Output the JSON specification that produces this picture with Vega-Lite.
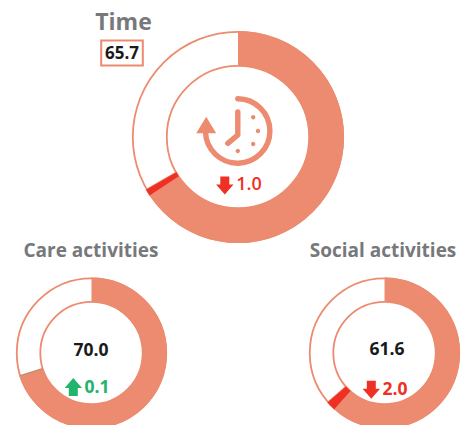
{
"$schema":"https://vega.github.io/schema/vega-lite/v6.json",
"width":467,"height":425,"padding":0,"autosize":{"type":"none"},
"background":"white",
"view":{"stroke":null},
"data":{"values":[
{"chart":"Time","tier":"main","zero":0,"full":100,"score":65.7,"change":1.0,"direction":"down","band_start":65.7,"band_end":66.7},
{"chart":"Care activities","tier":"sub","zero":0,"full":100,"score":70.0,"change":0.1,"direction":"up","band_start":70.0,"band_end":70.1},
{"chart":"Social activities","tier":"sub","zero":0,"full":100,"score":61.6,"change":2.0,"direction":"down","band_start":61.6,"band_end":63.6}
]},
"encoding":{
"x":{"field":"chart","type":"nominal","axis":null,"scale":{"type":"point","domain":["Care activities","Time","Social activities"],"range":[91.5,384.5],"padding":0}},
"y":{"field":"tier","type":"nominal","axis":null,"scale":{"type":"point","domain":["main","sub"],"range":[137,353],"padding":0}}
},
"layer":[
{"transform":[{"filter":"datum.tier=='main'"}],"mark":{"type":"arc","outerRadius":105.2,"innerRadius":71.2,"fill":"white","stroke":"#ec8b6f","strokeWidth":1.8},
 "encoding":{"theta":{"field":"zero","type":"quantitative","stack":null,"scale":{"domain":[0,100]}},"theta2":{"field":"full"}}},
{"transform":[{"filter":"datum.tier=='main'"}],"mark":{"type":"arc","outerRadius":106,"innerRadius":71,"fill":"#ec8b6f"},
 "encoding":{"theta":{"field":"zero","type":"quantitative","stack":null,"scale":{"domain":[0,100]}},"theta2":{"field":"score"}}},
{"transform":[{"filter":"datum.tier=='main'"}],"mark":{"type":"arc","outerRadius":105.5,"innerRadius":71.5,"fill":"#ec8b6f","stroke":"#ec8b6f","strokeWidth":1.5},
 "encoding":{"theta":{"field":"band_start","type":"quantitative","stack":null,"scale":{"domain":[0,100]}},"theta2":{"field":"band_end"}}},
{"transform":[{"filter":"datum.tier=='main'"}],"mark":{"type":"arc","outerRadius":106,"innerRadius":71},
 "encoding":{"theta":{"field":"band_start","type":"quantitative","stack":null,"scale":{"domain":[0,100]}},"theta2":{"field":"band_end"},
 "color":{"field":"direction","type":"nominal","legend":null,"scale":{"domain":["down","up"],"range":["#ee3124","#22b46a"]}}}},
{"transform":[{"filter":"datum.tier=='sub'"}],"mark":{"type":"arc","outerRadius":74.7,"innerRadius":51.2,"fill":"white","stroke":"#ec8b6f","strokeWidth":1.8},
 "encoding":{"theta":{"field":"zero","type":"quantitative","stack":null,"scale":{"domain":[0,100]}},"theta2":{"field":"full"}}},
{"transform":[{"filter":"datum.tier=='sub'"}],"mark":{"type":"arc","outerRadius":75.5,"innerRadius":51,"fill":"#ec8b6f"},
 "encoding":{"theta":{"field":"zero","type":"quantitative","stack":null,"scale":{"domain":[0,100]}},"theta2":{"field":"score"}}},
{"transform":[{"filter":"datum.tier=='sub'"}],"mark":{"type":"arc","outerRadius":75,"innerRadius":51.5,"fill":"#ec8b6f","stroke":"#ec8b6f","strokeWidth":1.5},
 "encoding":{"theta":{"field":"band_start","type":"quantitative","stack":null,"scale":{"domain":[0,100]}},"theta2":{"field":"band_end"}}},
{"transform":[{"filter":"datum.tier=='sub'"}],"mark":{"type":"arc","outerRadius":75.5,"innerRadius":51},
 "encoding":{"theta":{"field":"band_start","type":"quantitative","stack":null,"scale":{"domain":[0,100]}},"theta2":{"field":"band_end"},
 "color":{"field":"direction","type":"nominal","legend":null}}},
{"transform":[{"filter":"datum.tier=='main'"}],"mark":{"type":"point","size":4,"filled":false,"stroke":"#ec8b6f","strokeWidth":5.4,"strokeCap":"round","strokeJoin":"round","opacity":1,
 "shape":"M -0.2 -38.2 A 32.2 32.2 0 1 1 -32.5 -5 M -0.2 -25 L -0.2 -2 L -10.2 6.3"}},
{"transform":[{"filter":"datum.tier=='main'"}],"mark":{"type":"point","size":4,"filled":true,"fill":"#ec8b6f","opacity":1,
 "shape":"M -31.8 -20.3 L -41.8 -3.7 L -21.8 -3.7 Z M 13 -19.7 a 2.2 2.2 0 1 0 4.4 0 a 2.2 2.2 0 1 0 -4.4 0 Z M 17.8 -6 a 2.2 2.2 0 1 0 4.4 0 a 2.2 2.2 0 1 0 -4.4 0 Z M 13 7 a 2.2 2.2 0 1 0 4.4 0 a 2.2 2.2 0 1 0 -4.4 0 Z M -2.4 14 a 2.2 2.2 0 1 0 4.4 0 a 2.2 2.2 0 1 0 -4.4 0 Z"}},
{"transform":[{"filter":"datum.chart=='Time'"}],"mark":{"type":"point","size":4,"filled":false,"fill":"white","stroke":"#ec8b6f","strokeWidth":2,"opacity":1,
 "shape":"M -136.8 -96.5 L -95.2 -96.5 L -95.2 -71.5 L -136.8 -71.5 Z"}},
{"transform":[{"filter":"datum.chart=='Time'"}],"mark":{"type":"point","size":4,"filled":true,"fill":"#ee3124","opacity":1,
 "shape":"M -17.7 39.5 L -8.7 39.5 L -8.7 47.5 L -4.5 47.5 L -13.2 57.5 L -21.9 47.5 L -17.7 47.5 Z"}},
{"transform":[{"filter":"datum.chart=='Social activities'"}],"mark":{"type":"point","size":4,"filled":true,"fill":"#ee3124","opacity":1,
 "shape":"M -17.7 27.8 L -8.7 27.8 L -8.7 35.8 L -4.5 35.8 L -13.2 45.8 L -21.9 35.8 L -17.7 35.8 Z"}},
{"transform":[{"filter":"datum.chart=='Care activities'"}],"mark":{"type":"point","size":4,"filled":true,"fill":"#22b46a","opacity":1,
 "shape":"M -22.7 43 L -13.7 43 L -13.7 35 L -9.5 35 L -18.2 25 L -26.9 35 L -22.7 35 Z"}},
{"transform":[{"filter":"datum.chart=='Time'"}],"mark":{"type":"text","font":"Open Sans","fontWeight":700,"fontSize":23,"fill":"#77787b","dx":-114.5,"dy":-114},
 "encoding":{"text":{"field":"chart"}}},
{"transform":[{"filter":"datum.chart=='Care activities'"}],"mark":{"type":"text","font":"Open Sans","fontWeight":700,"fontSize":19,"fill":"#77787b","dx":-0.5,"dy":-102},
 "encoding":{"text":{"field":"chart"}}},
{"transform":[{"filter":"datum.chart=='Social activities'"}],"mark":{"type":"text","font":"Open Sans","fontWeight":700,"fontSize":19,"fill":"#77787b","dx":-1.5,"dy":-102},
 "encoding":{"text":{"field":"chart"}}},
{"transform":[{"filter":"datum.chart=='Time'"}],"mark":{"type":"text","font":"Open Sans","fontWeight":700,"fontSize":17,"fill":"#1a1a1a","dx":-116,"dy":-83},
 "encoding":{"text":{"field":"score","format":".1f"}}},
{"transform":[{"filter":"datum.chart=='Care activities'"}],"mark":{"type":"text","font":"Open Sans","fontWeight":700,"fontSize":17.5,"fill":"#1a1a1a","dx":-0.5,"dy":-2},
 "encoding":{"text":{"field":"score","format":".1f"}}},
{"transform":[{"filter":"datum.chart=='Social activities'"}],"mark":{"type":"text","font":"Open Sans","fontWeight":700,"fontSize":17.5,"fill":"#1a1a1a","dx":2.5,"dy":-3},
 "encoding":{"text":{"field":"score","format":".1f"}}},
{"transform":[{"filter":"datum.chart=='Time'"}],"mark":{"type":"text","font":"Open Sans","fontWeight":600,"fontSize":18,"dx":11,"dy":48},
 "encoding":{"text":{"field":"change","format":".1f"},"color":{"field":"direction","type":"nominal","legend":null}}},
{"transform":[{"filter":"datum.chart=='Care activities'"}],"mark":{"type":"text","font":"Open Sans","fontWeight":700,"fontSize":17.5,"dx":5.5,"dy":35},
 "encoding":{"text":{"field":"change","format":".1f"},"color":{"field":"direction","type":"nominal","legend":null}}},
{"transform":[{"filter":"datum.chart=='Social activities'"}],"mark":{"type":"text","font":"Open Sans","fontWeight":700,"fontSize":17.5,"dx":10.5,"dy":37},
 "encoding":{"text":{"field":"change","format":".1f"},"color":{"field":"direction","type":"nominal","legend":null}}}
]
}
